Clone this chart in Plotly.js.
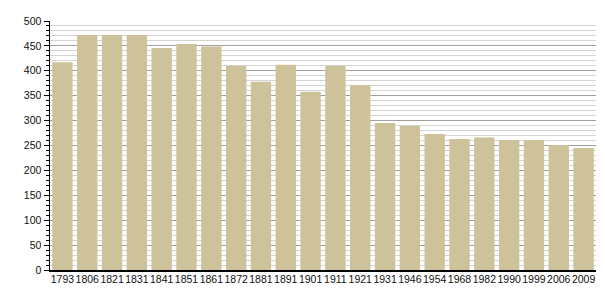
<!DOCTYPE html>
<html><head><meta charset="utf-8">
<script src="https://cdn.plot.ly/plotly-3.0.1.min.js"></script>
<style>html,body{margin:0;padding:0;background:#fff}</style>
</head><body><div id="chart" style="width:605px;height:300px"></div>
<script>
var years = ["1793","1806","1821","1831","1841","1851","1861","1872","1881","1891","1901","1911","1921","1931","1946","1954","1968","1982","1990","1999","2006","2009"];
var population = [417,472,472,472,446,454,449,410,378,412,358,410,371,295,289,273,263,266,261,261,251,245];

var trace = {
  type: 'bar', x: years, y: population,
  marker: {color: '#cdc29a', line: {width: 0}},
  hoverinfo: 'x+y'
};
var layout = {
  width: 605, height: 300,
  margin: {l: 50, r: 9, t: 21, b: 30},
  paper_bgcolor: '#fff', plot_bgcolor: '#fff',
  bargap: 0.18,
  showlegend: false,
  font: {family: 'Liberation Sans, Arial, sans-serif', size: 10, color: '#111'},
  xaxis: {
    type: 'category', showgrid: false, ticks: '', showline: true, linecolor: '#000', linewidth: 1.5,
    tickfont: {size: 10.5}, tickangle: 0, fixedrange: true, ticklabelstandoff: -1
  },
  yaxis: {
    range: [0, 500], dtick: 50, tick0: 0, showline: true, linecolor: '#000', linewidth: 1.5,
    ticks: 'outside', ticklen: 5, tickcolor: '#000', tickwidth: 1,
    showgrid: true, gridcolor: '#a0a0a0', gridwidth: 1, zeroline: false,
    minor: {dtick: 10, showgrid: true, gridcolor: '#d4d4d4', gridwidth: 1, ticks: 'outside', ticklen: 3, tickcolor: '#000'},
    tickfont: {size: 10.5}, fixedrange: true
  }
};
Plotly.newPlot('chart', [trace], layout, {staticPlot: true});
</script></body></html>
